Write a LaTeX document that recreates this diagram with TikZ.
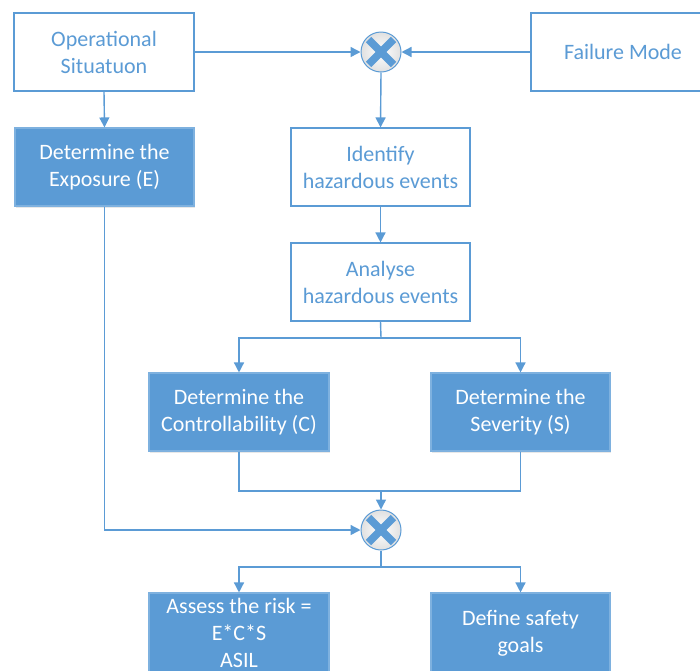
\documentclass[tikz,border=0pt]{standalone}
\usepackage{fontspec}
\setmainfont{Carlito}
\usetikzlibrary{arrows.meta,shadows,calc}
\definecolor{flowblue}{HTML}{5B9BD5}
\definecolor{flowedge}{HTML}{7EB1DF}
\tikzset{
  plainbox/.style={draw=flowblue, line width=1.1pt, fill=white, text=flowblue,
    minimum width=180pt, minimum height=78pt, inner sep=0pt, align=center,
    font=\fontsize{22}{27}\selectfont},
  filledbox/.style={plainbox, draw=flowedge, fill=flowblue, text=white,
    drop shadow={opacity=0.18, shadow xshift=1pt, shadow yshift=-2pt}},
  mixer/.style={circle, draw=flowblue, line width=1pt, minimum size=40pt,
    inner sep=0pt, inner color=white, outer color=black!12},
  flow/.style={draw=flowblue, line width=1.4pt, -{Triangle[length=10pt,width=10pt]}},
  link/.style={draw=flowblue, line width=1.4pt},
  crossarm/.style={draw=flowblue, line width=7.5pt}
}
\newcommand{\mixcross}[1]{%
  \draw[crossarm] ($(#1)+(-12.5,-12.5)$) -- ($(#1)+(12.5,12.5)$);
  \draw[crossarm] ($(#1)+(-12.5,12.5)$) -- ($(#1)+(12.5,-12.5)$);}
\begin{document}
\begin{tikzpicture}[x=1pt,y=-1pt]
\useasboundingbox (0,0) rectangle (700,670);
% top row
\node[plainbox] (op) at (104,52) {Operational\\Situatuon};
\node[plainbox, minimum width=184pt] (fm) at (623,52) {Failure Mode};
\node[mixer] (mx1) at (381,52) {};
\mixcross{mx1}
% second row
\node[filledbox, minimum width=179pt] (exp) at (104.5,167) {Determine the\\Exposure (E)};
\node[plainbox, minimum width=179pt] (idf) at (380.5,167) {Identify\\hazardous events};
\node[plainbox, minimum width=179pt] (ana) at (380.5,282) {Analyse\\hazardous events};
% rating boxes
\node[filledbox] (ctl) at (239,412) {Determine the\\Controllability (C)};
\node[filledbox, minimum width=179pt] (sev) at (520.5,412) {Determine the\\Severity (S)};
\node[mixer] (mx2) at (381,530) {};
\mixcross{mx2}
% results
\node[filledbox, minimum height=80pt] (risk) at (239,633) {Assess the risk =\\E*C*S\\ASIL};
\node[filledbox, minimum width=179pt, minimum height=80pt] (goals) at (520.5,633) {Define safety\\goals};
% junction points
\coordinate (j1) at (381,338);
\coordinate (j2) at (381,491);
\coordinate (j3) at (381,567);
% connectors
\draw[flow] (op.east) -- (mx1.west);
\draw[flow] (fm.west) -- (mx1.east);
\draw[flow] (mx1.south) -- (idf.north);
\draw[flow] (op.south) -- (exp.north);
\draw[flow] (idf.south) -- (ana.north);
\draw[link] (ana.south) -- (j1);
\draw[flow] (j1) -| (ctl.north);
\draw[flow] (j1) -| (sev.north);
\draw[link] (ctl.south) |- (j2);
\draw[link] (sev.south) |- (j2);
\draw[flow] (j2) -- (mx2.north);
\draw[flow] (exp.south) |- (mx2.west);
\draw[link] (mx2.south) -- (j3);
\draw[flow] (j3) -| (risk.north);
\draw[flow] (j3) -| (goals.north);
\end{tikzpicture}
\end{document}
